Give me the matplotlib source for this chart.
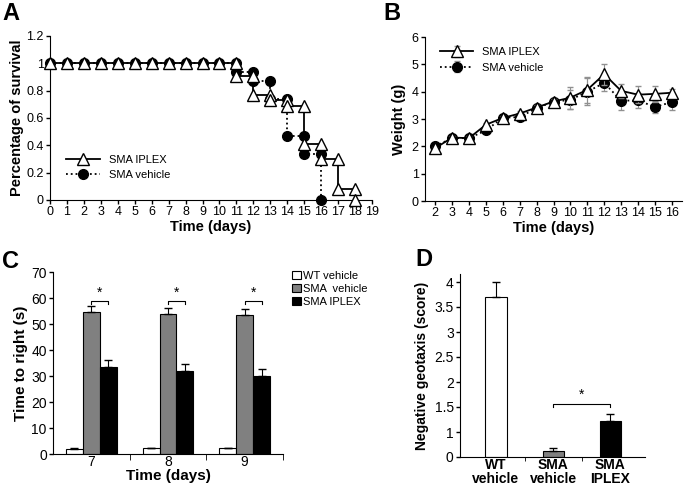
import numpy as np
import matplotlib
matplotlib.use("Agg")
import matplotlib.pyplot as plt

plt.rcParams["font.family"] = ["Liberation Sans", "DejaVu Sans"]

# A - survival (points duplicated at each death day to draw the steps)
surv_days_iplex = [0, 1, 2, 3, 4, 5, 6, 7, 8, 9, 10, 11, 11, 12, 12, 13, 13, 14, 14,
                   15, 15, 16, 16, 17, 17, 18, 18]
surv_iplex = [1, 1, 1, 1, 1, 1, 1, 1, 1, 1, 1, 1, 0.91, 0.91, 0.77, 0.77, 0.73, 0.73, 0.69,
              0.69, 0.41, 0.41, 0.30, 0.30, 0.08, 0.08, 0]
surv_days_veh = [0, 1, 2, 3, 4, 5, 6, 7, 8, 9, 10, 11, 11, 12, 12, 13, 13, 14, 14,
                 15, 15, 16, 16]
surv_veh = [1, 1, 1, 1, 1, 1, 1, 1, 1, 1, 1, 1, 0.94, 0.94, 0.87, 0.87, 0.74, 0.74, 0.47,
            0.47, 0.34, 0.34, 0]

# B - weight
w_days = [2, 3, 4, 5, 6, 7, 8, 9, 10, 11, 12, 13, 14, 15, 16]
w_iplex = [1.93, 2.32, 2.3, 2.79, 3.04, 3.2, 3.42, 3.64, 3.78, 4.07, 4.64, 4.03, 3.89, 3.92, 3.96]
w_iplex_err = [0.05, 0.06, 0.06, 0.08, 0.08, 0.08, 0.08, 0.08, 0.4, 0.48, 0.38, 0.25, 0.3, 0.3, 0.15]
w_veh = [2.0, 2.3, 2.3, 2.58, 3.05, 3.07, 3.4, 3.63, 3.7, 4.0, 4.32, 3.67, 3.68, 3.44, 3.62]
w_veh_err = [0.05, 0.05, 0.06, 0.08, 0.08, 0.08, 0.08, 0.08, 0.35, 0.5, 0.3, 0.33, 0.28, 0.22, 0.3]

# C - righting time
c_days = ["7", "8", "9"]
right_wt = [2.1, 2.2, 2.2]
right_wt_err = [0.3, 0.3, 0.3]
right_veh = [54.6, 54.0, 53.5]
right_veh_err = [2.5, 2.2, 2.3]
right_iplex = [33.4, 32.0, 30.0]
right_iplex_err = [2.9, 2.5, 2.8]

# D - negative geotaxis (the axis bottom is labelled "0" although it sits at 0.5)
d_groups = ["WT\nvehicle", "SMA\nvehicle", "SMA\nIPLEX"]
geotaxis = [3.7, 0.62, 1.22]
geotaxis_err = [0.3, 0.06, 0.14]
d_ticks = [0.5, 1, 1.5, 2, 2.5, 3, 3.5, 4]
d_ticklabels = ["0", "1", "1.5", "2", "2.5", "3", "3.5", "4"]

W, H = 685, 487
fig = plt.figure(figsize=(W / 100, H / 100), dpi=100)


def box(l, t, r, b):
    return [l / W, 1 - b / H, (r - l) / W, (b - t) / H]


def clean(ax):
    ax.spines["top"].set_visible(False)
    ax.spines["right"].set_visible(False)
    ax.tick_params(direction="out", length=3, width=1, labelsize=9, pad=1.5)


# ---- A
axA = fig.add_axes(box(50, 36, 372, 200))
axA.plot(surv_days_veh, surv_veh, color="black", ls=":", lw=1.3, marker="o", ms=7,
         mfc="black", mec="black", clip_on=False, zorder=3, label="SMA vehicle")
axA.plot(surv_days_iplex, surv_iplex, color="black", ls="-", lw=1.3, marker="^", ms=8,
         mfc="white", mec="black", clip_on=False, zorder=4, label="SMA IPLEX")
axA.set_xlim(0, 19)
axA.set_ylim(0, 1.2)
axA.set_xticks(range(0, 20))
axA.set_yticks([0, 0.2, 0.4, 0.6, 0.8, 1, 1.2])
axA.set_yticklabels(["0", "0.2", "0.4", "0.6", "0.8", "1", "1.2"])
clean(axA)
axA.set_xlabel("Time (days)", fontsize=10.5, fontweight="bold", labelpad=1)
axA.set_ylabel("Percentage of survival", fontsize=10.5, fontweight="bold", labelpad=2)
h, l = axA.get_legend_handles_labels()
axA.legend(h[::-1], l[::-1], loc="lower left", bbox_to_anchor=(0.02, 0.06), frameon=False,
           fontsize=8, handlelength=3, labelspacing=0.5)
fig.text(2 / W, 1 - 2 / H, "A", fontsize=17, fontweight="bold", va="top")

# ---- B
axB = fig.add_axes(box(425, 37, 682, 201))
axB.errorbar(w_days, w_veh, yerr=w_veh_err, color="black", ls=":", lw=1.3, marker="o", ms=7,
             mfc="black", mec="black", ecolor="#909090", elinewidth=0.8, capsize=2,
             zorder=3, label="SMA vehicle")
axB.errorbar(w_days, w_iplex, yerr=w_iplex_err, color="black", ls="-", lw=1.3, marker="^", ms=8,
             mfc="white", mec="black", ecolor="#909090", elinewidth=0.8, capsize=2,
             zorder=4, label="SMA IPLEX")
axB.set_xlim(1.4, 16.6)
axB.set_ylim(0, 6)
axB.set_xticks(w_days)
axB.set_yticks(range(0, 7))
clean(axB)
axB.set_xlabel("Time (days)", fontsize=10.5, fontweight="bold", labelpad=1)
axB.set_ylabel("Weight (g)", fontsize=10.5, fontweight="bold", labelpad=4)
h, l = axB.get_legend_handles_labels()
axB.legend(h[::-1], l[::-1], loc="upper left", bbox_to_anchor=(0.02, 1.0), frameon=False,
           fontsize=8, handlelength=3, labelspacing=0.5)
fig.text(383 / W, 1 - 2 / H, "B", fontsize=17, fontweight="bold", va="top")

# ---- C
axC = fig.add_axes(box(53, 272, 283, 454))
xc = np.arange(len(c_days))
bw = 0.22
ekw = dict(ecolor="black", elinewidth=0.8, capsize=3)
axC.bar(xc - bw, right_wt, bw, color="white", edgecolor="black", lw=0.8,
        yerr=[np.zeros(3), right_wt_err], error_kw=ekw, label="WT vehicle")
axC.bar(xc, right_veh, bw, color="#808080", edgecolor="black", lw=0.8,
        yerr=[np.zeros(3), right_veh_err], error_kw=ekw, label="SMA  vehicle")
axC.bar(xc + bw, right_iplex, bw, color="black", edgecolor="black", lw=0.8,
        yerr=[np.zeros(3), right_iplex_err], error_kw=ekw, label="SMA IPLEX")
for i in xc:
    axC.plot([i, i, i + bw, i + bw], [57.8, 59, 59, 57.8], color="black", lw=0.8)
    axC.text(i + bw / 2, 59.3, "*", ha="center", va="bottom", fontsize=10)
axC.set_xlim(-0.5, 2.5)
axC.set_ylim(0, 70)
axC.set_yticks(range(0, 80, 10))
axC.set_xticks(xc)
axC.set_xticklabels(c_days)
axC.set_xticks([0.5, 1.5, 2.5], minor=True)
clean(axC)
axC.tick_params(axis="both", labelsize=10)
axC.tick_params(axis="x", which="major", length=0, pad=1)
axC.tick_params(axis="x", which="minor", length=4, direction="out")
axC.set_xlabel("Time (days)", fontsize=11, fontweight="bold", labelpad=0)
axC.set_ylabel("Time to right (s)", fontsize=11, fontweight="bold", labelpad=2)
axC.legend(loc="upper left", bbox_to_anchor=(1.02, 1.03), frameon=False, fontsize=8,
           handlelength=0.8, handleheight=0.8, handletextpad=0.2, labelspacing=0.25,
           borderaxespad=0)
fig.text(2 / W, 1 - 250 / H, "C", fontsize=17, fontweight="bold", va="top")

# ---- D
axD = fig.add_axes(box(460, 274, 645, 457))
xd = np.arange(len(d_groups))
base = d_ticks[0]
axD.bar(xd, np.array(geotaxis) - base, 0.37, bottom=base,
        color=["white", "#808080", "black"], edgecolor="black", lw=0.8,
        yerr=[np.zeros(3), geotaxis_err], error_kw=ekw)
axD.plot([1, 1, 2, 2], [1.5, 1.56, 1.56, 1.5], color="black", lw=0.8)
axD.text(1.5, 1.6, "*", ha="center", va="bottom", fontsize=10)
axD.set_xlim(-0.63, 2.61)
axD.set_ylim(base, 4.16)
axD.set_yticks(d_ticks)
axD.set_yticklabels(d_ticklabels)
axD.set_xticks(xd)
axD.set_xticklabels(d_groups, fontweight="bold", linespacing=1.0)
axD.set_xticks([0.5, 1.5], minor=True)
clean(axD)
axD.tick_params(axis="both", labelsize=10)
axD.tick_params(axis="x", which="major", length=0, pad=1)
axD.tick_params(axis="x", which="minor", length=3, direction="out")
axD.set_ylabel("Negative geotaxis (score)", fontsize=10, fontweight="bold", labelpad=4)
fig.text(415 / W, 1 - 248 / H, "D", fontsize=17, fontweight="bold", va="top")

fig.savefig("out.png", dpi=100)
